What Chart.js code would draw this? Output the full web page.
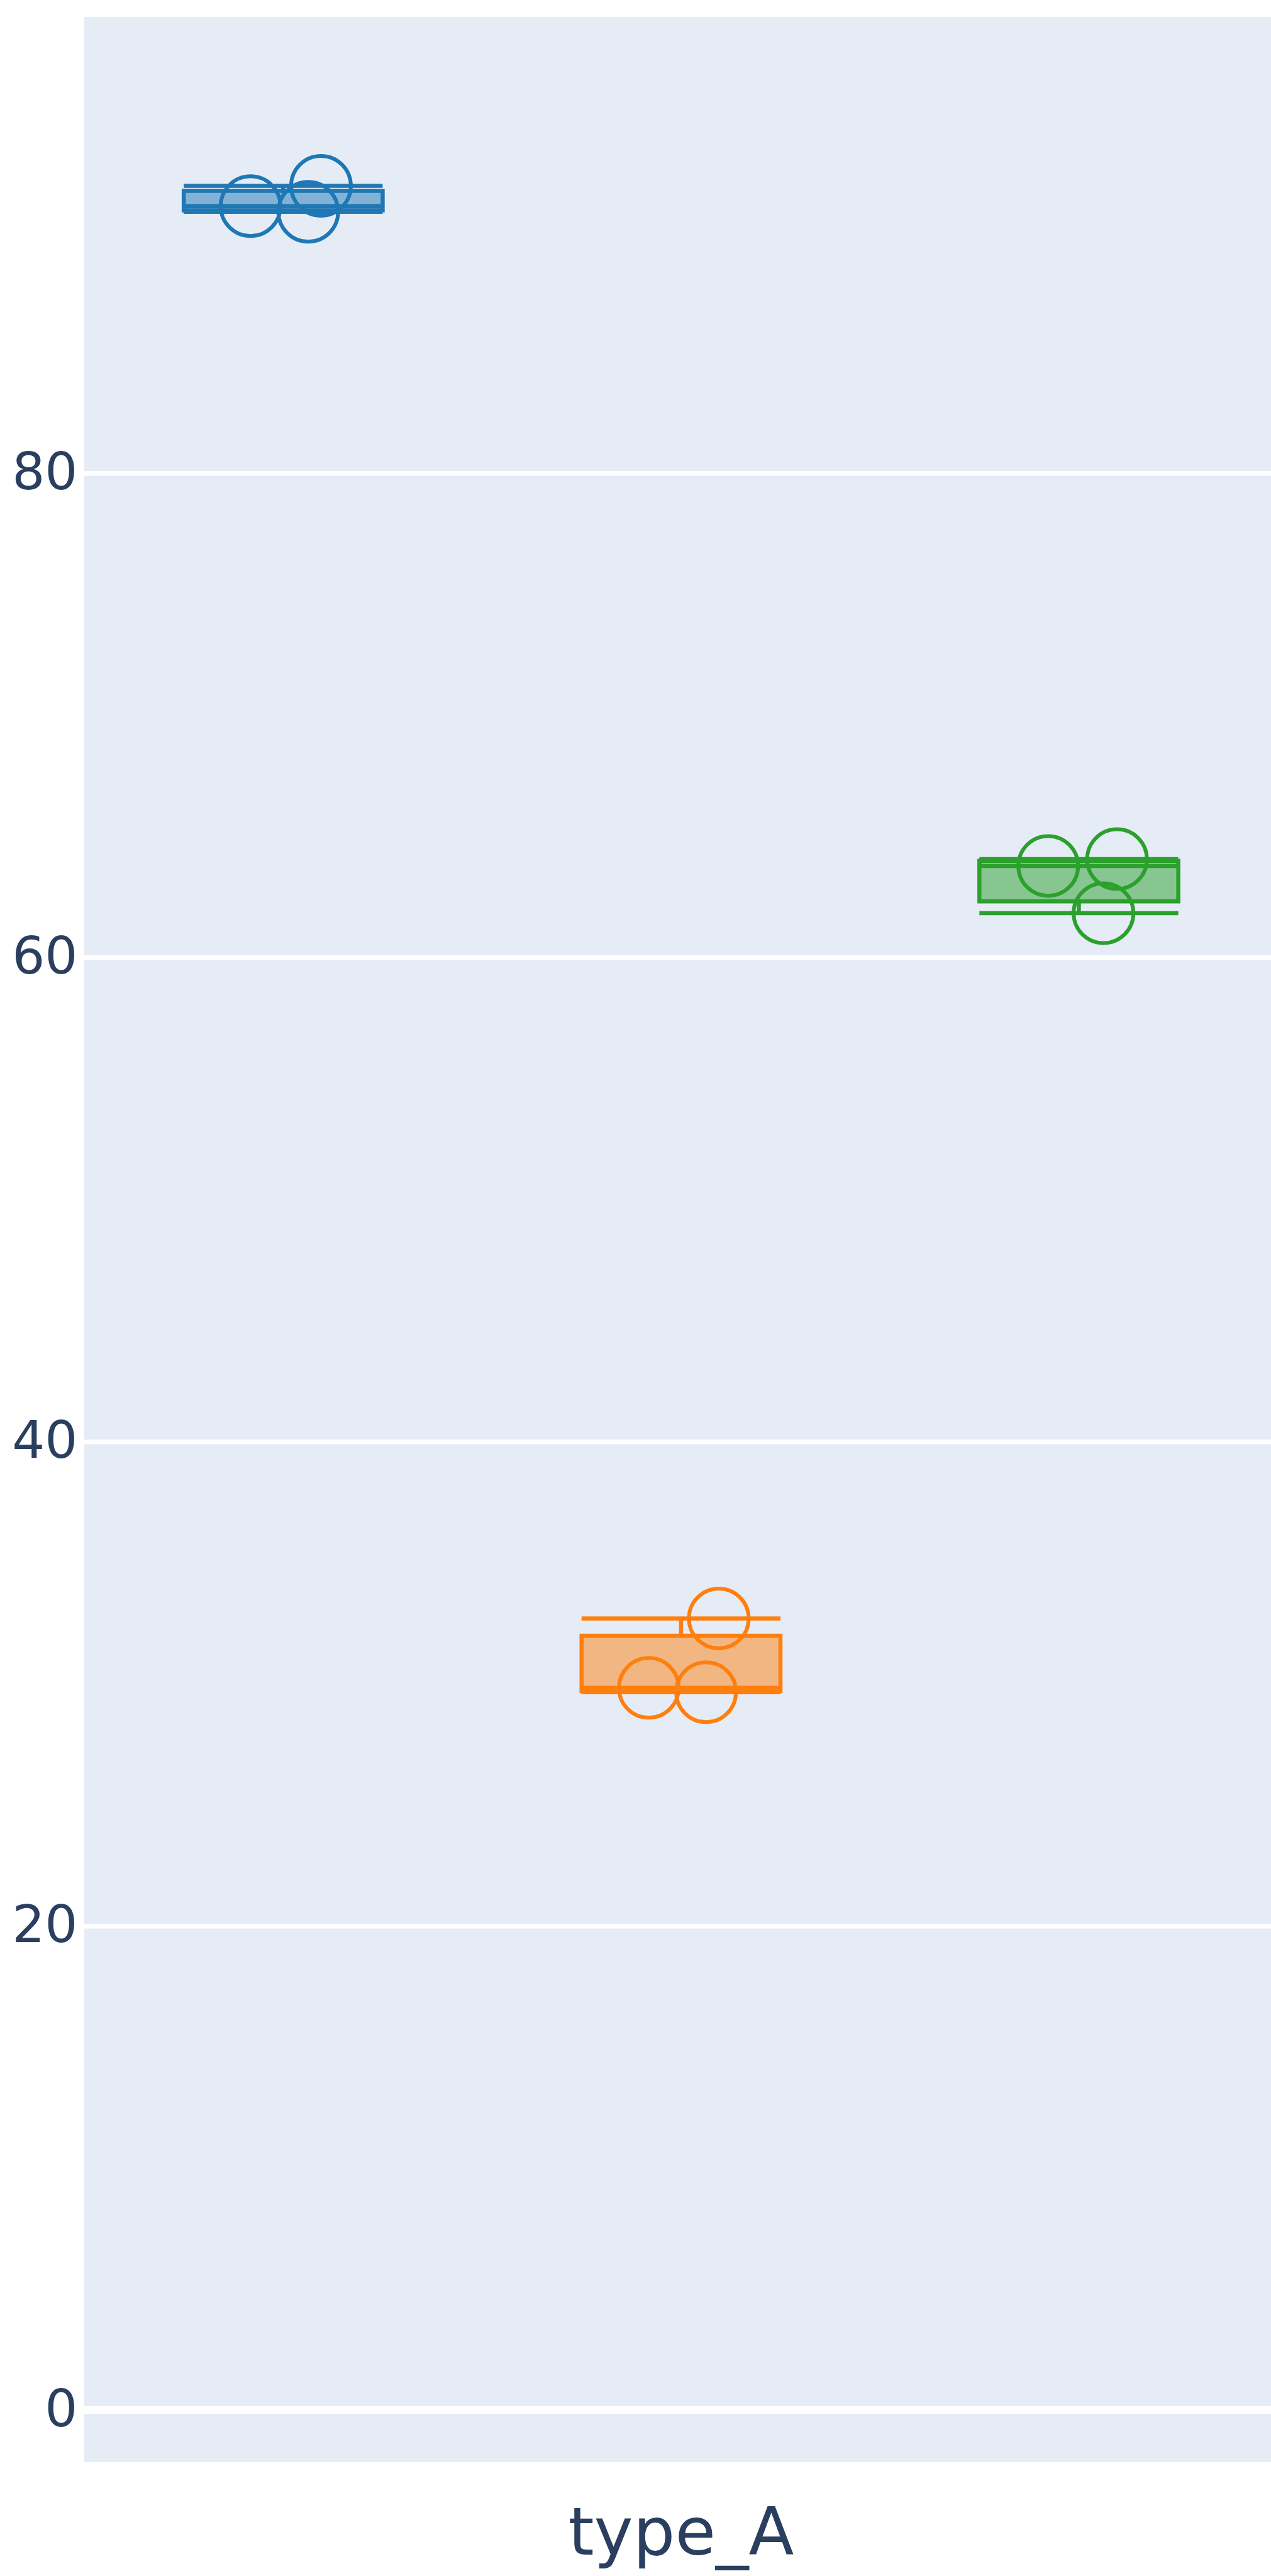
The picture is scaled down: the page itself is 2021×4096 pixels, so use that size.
<!DOCTYPE html>
<html>
<head>
<meta charset="utf-8">
<script src="https://cdn.jsdelivr.net/npm/chart.js@4/dist/chart.umd.min.js"></script>
<style>
  html, body { margin: 0; padding: 0; background: #ffffff; }
  #c { display: block; }
</style>
</head>
<body>
<canvas id="c" width="2021" height="4096"></canvas>
<script>
// ---------------- data ----------------
const categories = ['type_A'];
const traceNames = ['trace 0', 'trace 1', 'trace 2'];
const blueValues = [91.03, 90.80, 91.87];
const orangeValues = [29.83, 29.65, 32.70];
const greenValues = [63.78, 61.83, 64.06];
// horizontal jitter of each point (in box-slot units, relative to its box centre)
const blueJitter = [-0.082, 0.063, 0.095];
const orangeJitter = [-0.081, 0.063, 0.095];
const greenJitter = [-0.077, 0.062, 0.096];
const yTicks = [0, 20, 40, 60, 80];

// ---------------- styling / layout ----------------
const COLORS = ['#1f77b4', '#ff7f0e', '#2ca02c'];
const FILLS = ['rgba(31,119,180,0.5)', 'rgba(255,127,14,0.5)', 'rgba(44,160,44,0.5)'];
const GROUP_OFFSETS = [-1, 0, 1];   // slot of each trace inside the category group
const BOX_HALF = 0.25;               // half box width, in slot units
const FONT = "'DejaVu Sans', Verdana, sans-serif";
const TEXT = '#2a3f5f';

// plotly-style 'linear' quantile (Lib.interp)
function interp(arr, p) {
  let n = p * arr.length - 0.5;
  if (n < 0) return arr[0];
  if (n > arr.length - 1) return arr[arr.length - 1];
  const f = n % 1;
  return f * arr[Math.ceil(n)] + (1 - f) * arr[Math.floor(n)];
}
function boxStats(vals) {
  const s = vals.slice().sort((a, b) => a - b);
  const q1 = interp(s, 0.25), med = interp(s, 0.5), q3 = interp(s, 0.75);
  const iqr = q3 - q1;
  const lf = Math.min(...s.filter(v => v >= q1 - 1.5 * iqr));
  const uf = Math.max(...s.filter(v => v <= q3 + 1.5 * iqr));
  return { q1, med, q3, lf, uf };
}

const traces = [
  { values: blueValues, jitter: blueJitter },
  { values: orangeValues, jitter: orangeJitter },
  { values: greenValues, jitter: greenJitter }
];

const datasets = [];
traces.forEach((t, i) => {
  const c = 0 + GROUP_OFFSETS[i];   // category index 0 + group offset
  const l = c - BOX_HALF, r = c + BOX_HALF;
  const st = boxStats(t.values);
  // box fill
  datasets.push({
    type: 'bar',
    label: traceNames[i] + ' box',
    data: [{ x: c, y: [st.q1, st.q3] }],
    backgroundColor: FILLS[i],
    borderWidth: 0,
    borderSkipped: false,
    grouped: false,
    barPercentage: 0.5,
    categoryPercentage: 1.0,
    order: 3
  });
  // outline, median, whiskers
  const gap = (x) => ({ x: x, y: null });
  datasets.push({
    type: 'line',
    label: traceNames[i] + ' lines',
    data: [
      { x: l, y: st.q1 }, { x: l, y: st.q3 }, { x: r, y: st.q3 }, { x: r, y: st.q1 }, { x: l, y: st.q1 }, { x: l, y: st.q3 }, gap(l),
      { x: l, y: st.med }, { x: r, y: st.med }, gap(r),
      { x: c, y: st.q3 }, { x: c, y: st.uf }, gap(c),
      { x: l, y: st.uf }, { x: r, y: st.uf }, gap(r),
      { x: c, y: st.q1 }, { x: c, y: st.lf }, gap(c),
      { x: l, y: st.lf }, { x: r, y: st.lf }
    ],
    borderColor: COLORS[i],
    borderWidth: 6.5,
    borderJoinStyle: 'miter',
    borderCapStyle: 'butt',
    pointRadius: 0,
    spanGaps: false,
    fill: false,
    tension: 0,
    order: 2
  });
  // points
  datasets.push({
    type: 'scatter',
    label: traceNames[i],
    data: t.values.map((v, k) => ({ x: c + t.jitter[k], y: v })),
    pointStyle: 'circle',
    pointRadius: 47.5,
    pointBorderWidth: 6,
    pointBorderColor: COLORS[i],
    pointBackgroundColor: 'rgba(0,0,0,0)',
    showLine: false,
    order: 1
  });
});

const bgPlugin = {
  id: 'bg',
  beforeDraw(chart) {
    const { ctx, chartArea: a } = chart;
    ctx.save();
    ctx.fillStyle = '#ffffff';
    ctx.fillRect(0, 0, chart.width, chart.height);
    ctx.fillStyle = '#E5ECF6';
    ctx.fillRect(a.left, a.top, a.right - a.left, a.bottom - a.top);
    ctx.restore();
  }
};

function noPad(scale) {
  scale.paddingTop = 0; scale.paddingBottom = 0;
  scale.paddingLeft = 0; scale.paddingRight = 0;
}

new Chart(document.getElementById('c'), {
  type: 'bar',
  data: { datasets },
  plugins: [bgPlugin],
  options: {
    responsive: false,
    animation: false,
    devicePixelRatio: 1,
    layout: { autoPadding: false, padding: { top: 27.2, right: 0, bottom: 0, left: 0 } },
    plugins: { legend: { display: false }, tooltip: { enabled: false } },
    scales: {
      x: {
        type: 'linear',
        position: 'bottom',
        min: -1.5,
        max: 1.483,
        bounds: 'data',
        offset: false,
        grid: { display: false, drawTicks: false },
        border: { display: false },
        afterBuildTicks(scale) { scale.ticks = categories.map((_, i) => ({ value: i })); },
        afterFit(scale) { scale.height = 181; noPad(scale); },
        ticks: {
          autoSkip: false,
          maxRotation: 0,
          padding: 57,
          color: TEXT,
          font: { family: FONT, size: 105 },
          callback: (v) => categories[v]
        }
      },
      y: {
        type: 'linear',
        position: 'left',
        min: -2.15,
        max: 98.84,
        bounds: 'data',
        grid: {
          color: '#ffffff',
          drawTicks: false,
          lineWidth: (ctx) => (ctx.tick && ctx.tick.value === 0 ? 12.5 : 7.5)
        },
        border: { display: false },
        afterBuildTicks(scale) { scale.ticks = yTicks.map(v => ({ value: v })); },
        afterFit(scale) { scale.width = 134; noPad(scale); },
        ticks: {
          padding: 10.5,
          labelOffset: 4,
          color: TEXT,
          font: { family: FONT, size: 82, lineHeight: 0.5 },
          callback: (v) => String(v)
        }
      }
    }
  }
});
</script>
</body>
</html>
